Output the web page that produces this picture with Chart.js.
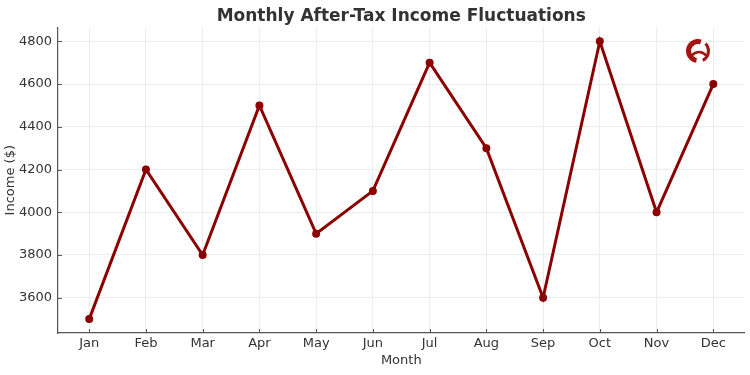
<!DOCTYPE html>
<html lang="en">
<head>
    <meta charset="UTF-8">
    <title>Monthly After-Tax Income Fluctuations</title>
    <style>
        body { margin: 0; background: #fff; }
        #wrap { width: 750px; height: 375px; }
    </style>
</head>
<body>
    <div id="wrap"><canvas id="incomeChart" width="750" height="375"></canvas></div>
    <script src="https://cdn.jsdelivr.net/npm/chart.js"></script>
    <script>
        const months = ['Jan', 'Feb', 'Mar', 'Apr', 'May', 'Jun', 'Jul', 'Aug', 'Sep', 'Oct', 'Nov', 'Dec'];
        const income = [3500, 4200, 3800, 4500, 3900, 4100, 4700, 4300, 3600, 4800, 4000, 4600];
        const yTicks = [3600, 3800, 4000, 4200, 4400, 4600, 4800];

        const lineColor = '#8b0000';
        const axisColor = '#555555';
        const textColor = '#333333';

        // small inward tick marks + the watermark logo in the corner
        const extras = {
            id: 'extras',
            afterDraw(chart) {
                const c = chart.ctx;
                const x = chart.scales.x, y = chart.scales.y;
                const area = chart.chartArea;
                c.save();
                c.strokeStyle = axisColor;
                c.lineWidth = 1;
                x.ticks.forEach((t, i) => {
                    const px = Math.round(x.getPixelForTick(i)) + 0.5;
                    c.beginPath(); c.moveTo(px, area.bottom); c.lineTo(px, area.bottom - 4); c.stroke();
                });
                y.ticks.forEach((t, i) => {
                    const py = Math.round(y.getPixelForTick(i)) + 0.5;
                    c.beginPath(); c.moveTo(area.left, py); c.lineTo(area.left + 4, py); c.stroke();
                });
                // logo: red swirl in a circle
                const lx = 698, ly = 51;
                c.fillStyle = '#a41414';
                c.strokeStyle = '#a41414';
                c.beginPath(); c.arc(lx, ly, 12, Math.PI * 0.55, Math.PI * 1.6); c.arc(lx, ly, 7, Math.PI * 1.6, Math.PI * 0.55, true); c.fill();
                c.beginPath(); c.arc(lx, ly, 12, Math.PI * 1.75, Math.PI * 0.35); c.arc(lx, ly, 9, Math.PI * 0.35, Math.PI * 1.75, true); c.fill();
                c.lineWidth = 2.5;
                c.beginPath(); c.moveTo(lx - 7, ly + 5); c.quadraticCurveTo(lx + 1, ly - 3, lx + 9, ly + 5); c.stroke();
                c.lineWidth = 1.5;
                c.beginPath(); c.moveTo(lx - 6, ly - 6); c.lineTo(lx, ly - 12); c.stroke();
                c.restore();
            }
        };

        new Chart(document.getElementById('incomeChart'), {
            type: 'line',
            data: {
                datasets: [{
                    data: income.map((v, i) => ({ x: i, y: v })),
                    borderColor: lineColor,
                    backgroundColor: lineColor,
                    borderWidth: 3,
                    pointRadius: 2.5,
                    pointHoverRadius: 2.5,
                    tension: 0
                }]
            },
            plugins: [extras],
            options: {
                responsive: false,
                animation: false,
                layout: { padding: { left: 0, right: 4, top: 0, bottom: 0 } },
                plugins: {
                    legend: { display: false },
                    tooltip: { enabled: false },
                    title: {
                        display: true,
                        fullSize: false,
                        text: 'Monthly After-Tax Income Fluctuations',
                        color: textColor,
                        font: { family: 'DejaVu Sans', size: 17, weight: 'bold' },
                        padding: { top: 6, bottom: 1 }
                    }
                },
                scales: {
                    x: {
                        type: 'linear',
                        min: -0.55,
                        max: 11.55,
                        afterBuildTicks: s => { s.ticks = months.map((m, i) => ({ value: i })); },
                        afterFit: s => { s.height = 42; },
                        ticks: {
                            callback: v => months[v],
                            color: textColor,
                            font: { family: 'DejaVu Sans', size: 13 },
                            padding: 3,
                            maxRotation: 0,
                            autoSkip: false
                        },
                        grid: { color: '#ececec', drawTicks: false },
                        border: { color: axisColor, width: 1.2 },
                        title: {
                            display: true, text: 'Month', color: textColor,
                            font: { family: 'DejaVu Sans', size: 13 }, padding: { top: 0, bottom: 7 }
                        }
                    },
                    y: {
                        min: 3435,
                        max: 4865,
                        afterBuildTicks: s => { s.ticks = yTicks.map(v => ({ value: v })); },
                        afterFit: s => { s.width = 58; },
                        ticks: {
                            callback: v => String(v),
                            color: textColor,
                            font: { family: 'DejaVu Sans', size: 13 },
                            padding: 6
                        },
                        grid: { color: '#ececec', drawTicks: false },
                        border: { color: axisColor, width: 1.2 },
                        title: {
                            display: true, text: 'Income ($)', color: textColor,
                            font: { family: 'DejaVu Sans', size: 13 }, padding: { top: 3, bottom: 0 }
                        }
                    }
                }
            }
        });
    </script>
</body>
</html>
